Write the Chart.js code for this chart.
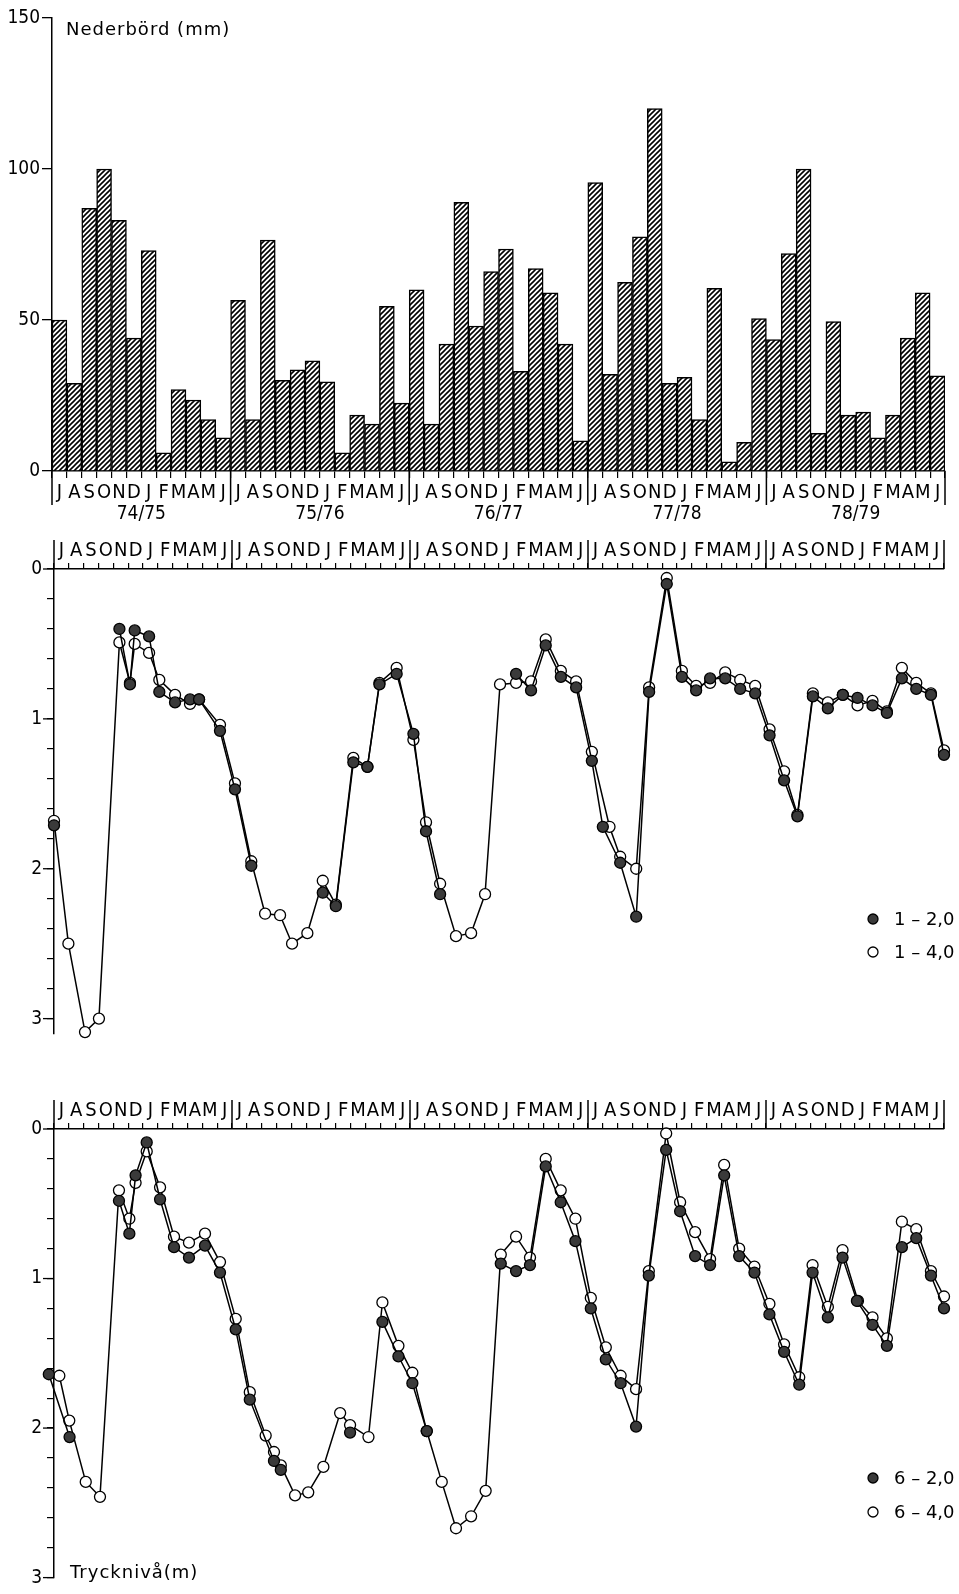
<!DOCTYPE html>
<html>
<head>
<meta charset="utf-8">
<script src="https://cdn.jsdelivr.net/npm/chart.js@4.4.1/dist/chart.umd.min.js"></script>
<style>
  html, body { margin: 0; padding: 0; background: #fff; }
  #sheet { position: relative; width: 959px; height: 1594px; overflow: hidden; background: #fff; }
  #sheet canvas { position: absolute; left: 0; }
</style>
</head>
<body>
<div id="sheet">
  <canvas id="rain"  width="959" height="530" style="top:0;width:959px;height:530px"></canvas>
  <canvas id="well1" width="959" height="520" style="top:530px;width:959px;height:520px"></canvas>
  <canvas id="well6" width="959" height="514" style="top:1080px;width:959px;height:514px"></canvas>
</div>
<script>
// ---- axis labels ----------------------------------------------------------
const months = ['J', 'A', 'S', 'O', 'N', 'D', 'J', 'F', 'M', 'A', 'M', 'J'];
const hydroYears = ['74/75', '75/76', '76/77', '77/78', '78/79'];
const monthLabels = hydroYears.flatMap(() => months);

// ---- monthly precipitation (mm), one array per hydrological year ---------
const precip7475 = [50, 29, 87, 100, 83, 44, 73, 6, 27, 23.5, 17, 11];
const precip7576 = [56.5, 17, 76.5, 30, 33.5, 36.5, 29.5, 6, 18.5, 15.5, 54.5, 22.5];
const precip7677 = [60, 15.5, 42, 89, 48, 66, 73.5, 33, 67, 59, 42, 10];
const precip7778 = [95.5, 32, 62.5, 77.5, 120, 29, 31, 17, 60.5, 3, 9.5, 50.5];
const precip7879 = [43.5, 72, 100, 12.5, 49.5, 18.5, 19.5, 11, 18.5, 44, 59, 31.5];

// ---- pressure levels (m), time in months counted from 1 July 1974 --------
// null marks a gap in the record (line is broken there)
const well1ShallowMonth = [0.00, 2.00, 4.41, 5.12, 5.44, 6.41, 7.10, 8.16, 9.17, 9.78, 11.19, 12.20, 13.30, 15.00, 18.12, 19.00, 20.18, 21.13, 21.94, 23.10, 24.23, 25.08, 26.03, 28.50, 31.15, 32.16, 33.15, 34.17, 35.20, 36.26, 37.00, 38.17, 39.25, 40.12, 41.31, 42.33, 43.29, 44.23, 45.25, 46.26, 47.27, 48.24, 49.22, 50.12, 51.16, 52.17, 53.18, 54.17, 55.18, 56.15, 57.16, 58.13, 59.12, 60.00];
const well1Shallow = [1.71, null, 0.40, 0.77, 0.41, 0.45, 0.82, 0.89, 0.87, 0.87, 1.08, 1.47, 1.98, null, 2.16, 2.25, 1.29, 1.32, 0.77, 0.70, 1.10, 1.75, 2.17, null, 0.70, 0.81, 0.51, 0.72, 0.79, 1.28, 1.72, 1.96, 2.32, 0.82, 0.10, 0.72, 0.81, 0.73, 0.73, 0.80, 0.83, 1.11, 1.41, 1.65, 0.85, 0.93, 0.84, 0.86, 0.91, 0.96, 0.73, 0.80, 0.84, 1.24];

const well1DeepMonth = [0.00, 0.97, 2.09, 3.03, 4.41, 5.12, 5.44, 6.41, 7.10, 8.16, 9.17, 9.78, 11.19, 12.20, 13.30, 14.23, 15.24, 16.05, 17.08, 18.12, 19.00, 20.18, 21.13, 21.94, 23.10, 24.23, 25.08, 26.03, 27.10, 28.12, 29.06, 30.07, 31.15, 32.16, 33.15, 34.17, 35.20, 36.26, 37.45, 38.17, 39.25, 40.12, 41.31, 42.33, 43.29, 44.23, 45.25, 46.26, 47.27, 48.24, 49.22, 50.12, 51.16, 52.17, 53.18, 54.17, 55.18, 56.15, 57.16, 58.13, 59.12, 60.00];
const well1Deep = [1.68, 2.50, 3.09, 3.00, 0.49, 0.76, 0.50, 0.56, 0.74, 0.84, 0.90, 0.87, 1.04, 1.43, 1.95, 2.30, 2.31, 2.50, 2.43, 2.08, 2.24, 1.26, 1.32, 0.76, 0.66, 1.14, 1.69, 2.10, 2.45, 2.43, 2.17, 0.77, 0.76, 0.75, 0.47, 0.68, 0.75, 1.22, 1.72, 1.92, 2.00, 0.79, 0.06, 0.68, 0.78, 0.76, 0.69, 0.74, 0.78, 1.07, 1.35, 1.64, 0.83, 0.89, 0.84, 0.91, 0.88, 0.95, 0.66, 0.76, 0.83, 1.21];

const well6ShallowMonth = [-0.35, 1.05, 2.50, 4.38, 5.08, 5.50, 6.25, 7.15, 8.09, 9.10, 10.18, 11.19, 12.25, 13.20, 14.83, 15.29, 17.50, 19.96, 21.00, 22.14, 23.22, 24.16, 25.13, 27.50, 30.12, 31.15, 32.09, 33.15, 34.16, 35.15, 36.19, 37.20, 38.20, 39.24, 40.10, 41.27, 42.21, 43.22, 44.23, 45.18, 46.19, 47.22, 48.23, 49.22, 50.24, 51.14, 52.17, 53.16, 54.13, 55.18, 56.15, 57.16, 58.13, 59.12, 60.00];
const well6Shallow = [1.64, 2.06, null, 0.48, 0.70, 0.31, 0.09, 0.47, 0.79, 0.86, 0.78, 0.96, 1.34, 1.81, 2.22, 2.28, null, 2.03, null, 1.29, 1.52, 1.70, 2.02, null, 0.90, 0.95, 0.91, 0.25, 0.49, 0.75, 1.20, 1.54, 1.70, 1.99, 0.98, 0.14, 0.55, 0.85, 0.91, 0.31, 0.85, 0.96, 1.24, 1.49, 1.71, 0.96, 1.26, 0.86, 1.15, 1.31, 1.45, 0.79, 0.73, 0.98, 1.20];

const well6DeepMonth = [0.36, 1.03, 2.14, 3.10, 4.38, 5.08, 5.50, 6.25, 7.15, 8.09, 9.10, 10.18, 11.19, 12.25, 13.20, 14.27, 14.83, 15.29, 16.25, 17.14, 18.16, 19.29, 19.96, 21.20, 22.14, 23.22, 24.16, 25.13, 26.14, 27.10, 28.12, 29.10, 30.12, 31.15, 32.09, 33.15, 34.16, 35.15, 36.19, 37.20, 38.20, 39.24, 40.10, 41.27, 42.21, 43.22, 44.23, 45.18, 46.19, 47.22, 48.23, 49.22, 50.24, 51.14, 52.17, 53.16, 54.20, 55.18, 56.15, 57.16, 58.13, 59.12, 60.00];
const well6Deep = [1.65, 1.95, 2.36, 2.46, 0.41, 0.60, 0.36, 0.15, 0.39, 0.72, 0.76, 0.70, 0.89, 1.27, 1.76, 2.05, 2.16, 2.25, 2.45, 2.43, 2.26, 1.90, 1.98, 2.06, 1.16, 1.45, 1.63, 2.02, 2.36, 2.67, 2.59, 2.42, 0.84, 0.72, 0.86, 0.20, 0.41, 0.60, 1.13, 1.46, 1.65, 1.74, 0.95, 0.03, 0.49, 0.69, 0.87, 0.24, 0.80, 0.92, 1.17, 1.44, 1.66, 0.91, 1.19, 0.81, 1.15, 1.26, 1.40, 0.62, 0.67, 0.95, 1.12];

// ---- styling --------------------------------------------------------------
const INK = '#000';
const DOT = '#3a3a3a';
const NARROW = '"DejaVu Sans Condensed", "DejaVu Sans", sans-serif';
const WIDE = '"DejaVu Sans", sans-serif';

Chart.defaults.font.family = NARROW;
Chart.defaults.color = INK;
Chart.defaults.animation = false;
Chart.defaults.plugins.legend.display = false;
Chart.defaults.plugins.tooltip.enabled = false;

const toPoints = (xs, ys) => xs.map((x, i) => ({ x, y: ys[i] }));

function hatchPattern(ctx) {
  const s = 5;
  const tile = document.createElement('canvas');
  tile.width = s; tile.height = s;
  const g = tile.getContext('2d');
  g.fillStyle = '#fff';
  g.fillRect(0, 0, s, s);
  g.strokeStyle = INK;
  g.lineWidth = 1.6;
  g.beginPath();
  g.moveTo(0, s); g.lineTo(s, 0);
  g.moveTo(-1, 1); g.lineTo(1, -1);
  g.moveTo(s - 1, s + 1); g.lineTo(s + 1, s - 1);
  g.stroke();
  return ctx.createPattern(tile, 'repeat');
}

// vertical separators between hydrological years, through the month-letter row
const yearDividers = {
  id: 'yearDividers',
  afterDraw(chart, args, opts) {
    const s = chart.scales[opts.scaleID];
    const { ctx, chartArea } = chart;
    const y0 = opts.side === 'top' ? chartArea.top : chartArea.bottom;
    const y1 = opts.side === 'top' ? y0 - opts.length : y0 + opts.length;
    ctx.save();
    ctx.strokeStyle = INK;
    ctx.lineWidth = 1.5;
    for (let k = 0; k <= hydroYears.length; k++) {
      const x = s.getPixelForValue(12 * k);
      ctx.beginPath(); ctx.moveTo(x, y0); ctx.lineTo(x, y1); ctx.stroke();
    }
    ctx.restore();
  }
};

// longer marks at whole metres on the level axis
const wholeMetreTicks = {
  id: 'wholeMetreTicks',
  afterDraw(chart) {
    const s = chart.scales.y;
    const { ctx, chartArea } = chart;
    ctx.save();
    ctx.strokeStyle = INK;
    ctx.lineWidth = 1.3;
    for (let v = 0; v <= 3; v++) {
      const y = s.getPixelForValue(v);
      ctx.beginPath(); ctx.moveTo(chartArea.left - 11, y); ctx.lineTo(chartArea.left, y); ctx.stroke();
    }
    ctx.restore();
  }
};

// axis caption written inside the plot area
const panelTitle = {
  id: 'panelTitle',
  afterDraw(chart, args, opts) {
    const { ctx, chartArea } = chart;
    ctx.save();
    ctx.font = `${opts.size}px ${WIDE}`;
    ctx.fillStyle = INK;
    ctx.textBaseline = 'alphabetic';
    ctx.letterSpacing = opts.spacing || '0px';
    const y = opts.anchor === 'bottom' ? chartArea.bottom + opts.dy : chartArea.top + opts.dy;
    ctx.fillText(opts.text, chartArea.left + opts.dx, y);
    ctx.restore();
  }
};

// symbol key for the two depths
const seriesKey = {
  id: 'seriesKey',
  afterDraw(chart, args, opts) {
    const { ctx } = chart;
    ctx.save();
    ctx.font = `18px ${WIDE}`;
    ctx.textBaseline = 'middle';
    chart.data.datasets.forEach((ds, i) => {
      const y = opts.y + i * opts.gap;
      ctx.beginPath();
      ctx.arc(opts.x, y, 5, 0, Math.PI * 2);
      ctx.fillStyle = ds.pointBackgroundColor;
      ctx.fill();
      ctx.lineWidth = 1.3;
      ctx.strokeStyle = INK;
      ctx.stroke();
      ctx.fillStyle = INK;
      ctx.fillText(ds.label, opts.x + 21, y + 1);
    });
    ctx.restore();
  }
};

// ---- precipitation bars ---------------------------------------------------
const rainCtx = document.getElementById('rain').getContext('2d');
new Chart(rainCtx, {
  type: 'bar',
  data: {
    labels: monthLabels,
    datasets: [{
      label: 'Nederbörd (mm)',
      data: [...precip7475, ...precip7576, ...precip7677, ...precip7778, ...precip7879],
      backgroundColor: hatchPattern(rainCtx),
      borderColor: INK,
      borderWidth: 1.5,
      borderSkipped: 'bottom',
      barPercentage: 1,
      categoryPercentage: 1
    }]
  },
  options: {
    responsive: false,
    layout: { padding: { top: 18, right: 14, bottom: 0, left: 0 } },
    scales: {
      x: {
        type: 'category',
        offset: true,
        grid: { offset: true, drawOnChartArea: false, tickLength: 7, color: INK, lineWidth: 1.2 },
        border: { color: INK, width: 1.5 },
        ticks: { autoSkip: false, maxRotation: 0, minRotation: 0, padding: 3, font: { size: 20 } },
        afterFit: s => { s.height = 32; }
      },
      xYear: {
        type: 'linear',
        position: 'bottom',
        weight: 1,
        min: 0,
        max: 60,
        offset: false,
        afterBuildTicks: s => { s.ticks = hydroYears.map((_, i) => ({ value: 12 * i + 6 })); },
        ticks: { callback: (v, i) => hydroYears[i], autoSkip: false, maxRotation: 0, padding: 0, font: { size: 19 } },
        grid: { display: false, drawTicks: false, offset: false },
        border: { display: false },
        afterFit: s => { s.height = 27; }
      },
      y: {
        min: 0,
        max: 150,
        ticks: { stepSize: 50, padding: 2, font: { size: 19 } },
        grid: { drawOnChartArea: false, tickLength: 10, color: INK, lineWidth: 1.3 },
        border: { color: INK, width: 1.5 },
        afterFit: s => { s.width = 52; }
      }
    },
    plugins: {
      yearDividers: { scaleID: 'xYear', side: 'bottom', length: 34 },
      panelTitle: { text: 'Nederbörd (mm)', dx: 14, dy: 17, anchor: 'top', size: 18, spacing: '1px' }
    }
  },
  plugins: [yearDividers, panelTitle]
});

// ---- pressure-level panels ------------------------------------------------
function levelPanel(id, shallow, deep, yMax, padding, key, title) {
  const lineStyle = {
    xAxisID: 'x',
    yAxisID: 'y',
    borderColor: INK,
    borderWidth: 1.5,
    pointRadius: 5.5,
    pointBorderColor: INK,
    pointBorderWidth: 1.3,
    tension: 0,
    spanGaps: false,
    clip: false
  };
  const plugins = {
    yearDividers: { scaleID: 'x', side: 'top', length: 29 },
    seriesKey: key
  };
  if (title) plugins.panelTitle = title;
  return new Chart(document.getElementById(id), {
    type: 'line',
    data: {
      datasets: [
        Object.assign({ label: shallow.label, data: shallow.data, pointBackgroundColor: DOT }, lineStyle),
        Object.assign({ label: deep.label, data: deep.data, pointBackgroundColor: '#fff' }, lineStyle)
      ]
    },
    options: {
      responsive: false,
      layout: { padding },
      scales: {
        x: { type: 'linear', min: 0, max: 60, display: false },
        months: {
          type: 'category',
          labels: monthLabels,
          position: 'top',
          offset: true,
          grid: { offset: true, drawOnChartArea: false, tickLength: 6, color: INK, lineWidth: 1.2 },
          border: { color: INK, width: 1.5 },
          ticks: { autoSkip: false, maxRotation: 0, minRotation: 0, padding: 0, font: { size: 20 } },
          afterFit: s => { s.height = 34; }
        },
        y: {
          reverse: true,
          min: 0,
          max: yMax,
          afterBuildTicks: s => { s.ticks = s.ticks.filter(t => t.value <= 3.0001); },
          ticks: {
            stepSize: 0.2,
            includeBounds: false,
            padding: 5,
            font: { size: 19 },
            callback: v => (Math.abs(v - Math.round(v)) < 1e-6 ? String(Math.round(v)) : '')
          },
          grid: { drawOnChartArea: false, tickLength: 7, color: INK, lineWidth: 1.2 },
          border: { color: INK, width: 1.5 },
          afterFit: s => { s.width = 54; }
        }
      },
      plugins
    },
    plugins: [yearDividers, wholeMetreTicks, seriesKey, panelTitle]
  });
}

levelPanel('well1',
  { label: '1 – 2,0', data: toPoints(well1ShallowMonth, well1Shallow) },
  { label: '1 – 4,0', data: toPoints(well1DeepMonth, well1Deep) },
  3.1,
  { top: 5, right: 15, bottom: 12, left: 0 },
  { x: 873, y: 389, gap: 33 },
  null);

levelPanel('well6',
  { label: '6 – 2,0', data: toPoints(well6ShallowMonth, well6Shallow) },
  { label: '6 – 4,0', data: toPoints(well6DeepMonth, well6Deep) },
  3,
  { top: 15, right: 15, bottom: 11, left: 0 },
  { x: 873, y: 398, gap: 34 },
  { text: 'Trycknivå(m)', dx: 16, dy: 0, anchor: 'bottom', size: 18, spacing: '1px' });
</script>
</body>
</html>
